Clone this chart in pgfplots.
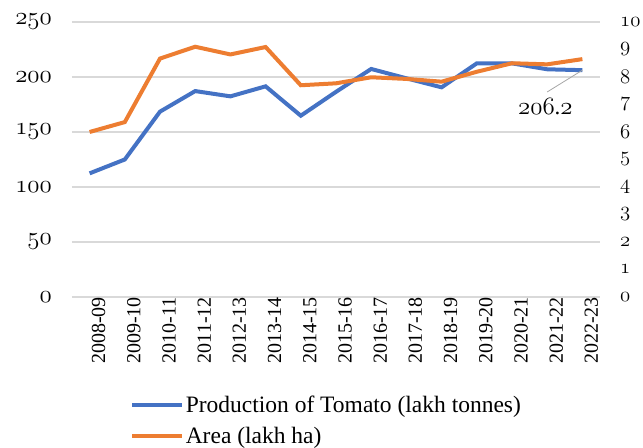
\documentclass[border=0pt]{standalone}
\usepackage{pgfplots}
\pgfplotsset{compat=1.18}
\usepackage{fontspec}
\setmainfont{Liberation Serif}
\definecolor{blu}{HTML}{4472C4}
\definecolor{org}{HTML}{ED7D31}
\definecolor{grd}{HTML}{D9D9D9}
\newcommand\osf[1]{{\usefont{OML}{cmm}{m}{it}#1}}
\pgfplotsset{base/.style={scale only axis, width=528pt, height=275pt,
  xmin=-0.5, xmax=14.5, axis line style={draw=none}, major tick length=0pt,
  tick style={draw=none}}}
\begin{document}
\begin{tikzpicture}
\begin{axis}[base, name=main, ymin=0, ymax=250, ytick={0,50,...,250},
  ymajorgrids, grid style={grd, line width=1.5pt},
  xtick={0,...,14},
  xticklabels={2008-09,2009-10,2010-11,2011-12,2012-13,2013-14,2014-15,2015-16,2016-17,2017-18,2018-19,2019-20,2020-21,2021-22,2022-23},
  x tick label style={rotate=90, anchor=east, inner sep=0pt, yshift=-9pt, font=\fontsize{20}{20}\selectfont},
  yticklabel={\osf{\pgfmathprintnumber[assume math mode=true]{\tick}}},
  y tick label style={anchor=east, inner sep=0pt, xshift=-20pt, font=\fontsize{23}{23}\selectfont},
]
\addplot[blu, line width=4pt] coordinates {
(0,112.4) (1,125) (2,168.5) (3,187.2) (4,182.4) (5,191.5) (6,164.8) (7,186.5)
(8,207.3) (9,198.8) (10,190.6) (11,212.4) (12,212.4) (13,207) (14,206.2)};
\draw[gray!70, line width=0.8pt] (axis cs:14,206.2) -- (axis cs:13.0,186.4);
\node[font=\fontsize{23}{23}\selectfont, inner sep=0pt] at (axis cs:12.95,172.7) {\osf{206}.\osf{2}};
\end{axis}
\begin{axis}[base, ymin=0, ymax=10, ytick={0,...,10},
  axis x line=none, axis y line*=right,
  yticklabel={\osf{\pgfmathprintnumber[assume math mode=true]{\tick}}},
  y tick label style={anchor=west, inner sep=0pt, xshift=20pt, font=\fontsize{21.5}{21.5}\selectfont},
  legend cell align=left,
  legend image code/.code={\draw[#1, line width=4pt] (0pt,0pt) -- (50pt,0pt);},
  legend style={at={(0.11,-0.355)}, anchor=north west, draw=none, fill=none,
    inner sep=0pt, row sep=9.5pt, font=\fontsize{23.5}{23.5}\selectfont,
    nodes={inner sep=1.5pt}},
]
\addlegendimage{blu, line width=4pt}
\addlegendentry{Production of Tomato (lakh tonnes)}
\addplot[org, line width=4pt] coordinates {
(0,6.0) (1,6.36) (2,8.67) (3,9.10) (4,8.82) (5,9.09) (6,7.70) (7,7.77)
(8,7.99) (9,7.93) (10,7.83) (11,8.19) (12,8.50) (13,8.46) (14,8.65)};
\addlegendentry{Area (lakh ha)}
\end{axis}
\pgfresetboundingbox
\path[use as bounding box] ([xshift=-72pt,yshift=-151pt]main.south west) rectangle ([xshift=43pt,yshift=22pt]main.north east);
\end{tikzpicture}
\end{document}
